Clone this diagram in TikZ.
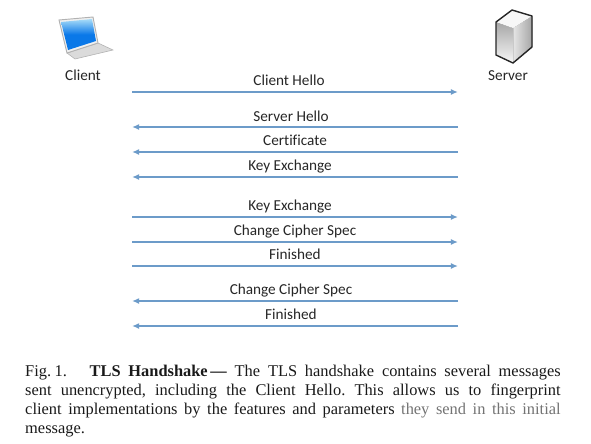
\documentclass[tikz,border=0pt]{standalone}
\usepackage{fontspec}
\setmainfont{Liberation Serif}
\newfontfamily\labelfont[RawFeature={-liga}]{Carlito}
\usetikzlibrary{arrows.meta}
\definecolor{msgblue}{HTML}{6C9BC9}
\definecolor{screenblue}{HTML}{0A78E8}
\definecolor{screenlight}{HTML}{A8DCF8}
\tikzset{
    msg/.style={draw=msgblue, line width=1.4pt, -{Latex[length=6pt,width=5pt]}},
    lbl/.style={font=\labelfont\fontsize{13}{15}\selectfont, text=black!85, inner sep=0pt, text height=11.5pt, text depth=2.5pt},
    edge/.style={draw=black!85, line width=1.2pt, line join=round}
}
\begin{document}
\begin{tikzpicture}[x=0.03cm, y=-0.03cm]
    \useasboundingbox (0, 0) rectangle (591, 443);

    % laptop
    \filldraw [draw=black!30, fill=black!14, line width=0.5pt] (67, 53) -- (98, 43) -- (113, 50) -- (75, 59) -- cycle;
    \filldraw [draw=black!30, fill=black!6, line width=0.8pt] (59, 20) -- (93, 17) -- (98, 43) -- (67, 53) -- cycle;
    \shade [top color=screenlight, bottom color=screenblue, middle color=screenblue]
        (61, 22) -- (92, 19) -- (96, 41) -- (68, 50) -- cycle;

    % server
    \fill [left color=black!10, right color=black!35] (513, 28) -- (532, 16) -- (532, 47) -- (513, 63) -- cycle;
    \fill [top color=black!35, bottom color=black!3] (496, 22) -- (513, 28) -- (513, 63) -- (496, 55) -- cycle;
    \fill [black!3] (496, 22) -- (512, 10) -- (532, 16) -- (513, 28) -- cycle;
    \draw [edge] (496, 22) -- (512, 10) -- (532, 16) -- (532, 47) -- (513, 63) -- (496, 55) -- cycle;

    \node [lbl] (client) at (83, 75) {Client};
    \node [lbl] (server) at (508, 75) {Server};

    % left and right ends of the messages
    \coordinate (c1) at (132, 92);   \coordinate (s1) at (458, 92);
    \coordinate (c2) at (132, 127);  \coordinate (s2) at (458, 127);
    \coordinate (c3) at (132, 152);  \coordinate (s3) at (458, 152);
    \coordinate (c4) at (132, 177);  \coordinate (s4) at (458, 177);
    \coordinate (c5) at (132, 217);  \coordinate (s5) at (458, 217);
    \coordinate (c6) at (132, 242);  \coordinate (s6) at (458, 242);
    \coordinate (c7) at (132, 266);  \coordinate (s7) at (458, 266);
    \coordinate (c8) at (132, 301);  \coordinate (s8) at (458, 301);
    \coordinate (c9) at (132, 326);  \coordinate (s9) at (458, 326);

    \draw [msg] (c1) -- (s1);
    \draw [msg] (s2) -- (c2);
    \draw [msg] (s3) -- (c3);
    \draw [msg] (s4) -- (c4);
    \draw [msg] (c5) -- (s5);
    \draw [msg] (c6) -- (s6);
    \draw [msg] (c7) -- (s7);
    \draw [msg] (s8) -- (c8);
    \draw [msg] (s9) -- (c9);

    \node [lbl] (m1) at (289, 80) {Client Hello};
    \node [lbl] (m2) at (291, 116) {Server Hello};
    \node [lbl] (m3) at (295, 140) {Certificate};
    \node [lbl] (m4) at (290, 165) {Key Exchange};
    \node [lbl] (m5) at (290, 205) {Key Exchange};
    \node [lbl] (m6) at (295, 230) {Change Cipher Spec};
    \node [lbl] (m7) at (295, 254) {Finished};
    \node [lbl] (m8) at (291, 289) {Change Cipher Spec};
    \node [lbl] (m9) at (291, 314) {Finished};

    % caption
    \node [anchor=north west, inner sep=0pt, text width=457pt, align=justify,
           font=\fontsize{14}{16.4}\selectfont\frenchspacing, text=black!90] (caption) at (25, 364.5)
        {\makebox[55pt][l]{Fig.\hspace{3pt}1.}\textbf{TLS Handshake\,---} The TLS handshake contains several messages\linebreak
        sent unencrypted, including the Client Hello. This allows us to fingerprint\linebreak
        client implementations by the features and parameters \textcolor{black!55}{they send in this initial}\linebreak
        message.};
\end{tikzpicture}
\end{document}
